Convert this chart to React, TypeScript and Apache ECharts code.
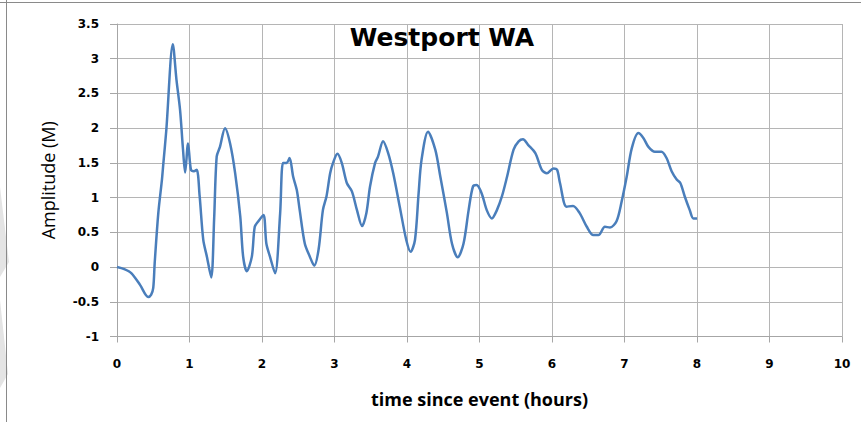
import React, { useEffect, useRef } from "react";
import * as echarts from "echarts";

const titleText = "Westport WA";
const xAxisName = "time since event (hours)";
const yAxisName = "Amplitude (M)";

const times = [
  0, 0.1, 0.2, 0.32, 0.43, 0.47, 0.5, 0.52, 0.57, 0.62, 0.64, 0.68, 0.77, 0.82, 0.87, 0.91, 0.94, 0.98,
  1.02, 1.06, 1.1, 1.14, 1.19, 1.24, 1.3, 1.34, 1.375, 1.42, 1.49, 1.56, 1.63, 1.7, 1.74, 1.79, 1.86,
  1.9, 1.95, 2.02, 2.06, 2.11, 2.18, 2.25, 2.29, 2.34, 2.38, 2.43, 2.48, 2.52, 2.59, 2.66, 2.72, 2.78,
  2.84, 2.89, 2.94, 2.98, 3.04, 3.1, 3.17, 3.24, 3.31, 3.38, 3.44, 3.49, 3.56, 3.6, 3.67, 3.74, 3.81,
  3.9, 3.99, 4.05, 4.11, 4.16, 4.2, 4.29, 4.39, 4.46, 4.55, 4.62, 4.7, 4.78, 4.85, 4.91, 4.96, 5.03,
  5.1, 5.17, 5.24, 5.31, 5.38, 5.47, 5.54, 5.6, 5.67, 5.77, 5.86, 5.93, 6.02, 6.07, 6.11, 6.2, 6.29,
  6.38, 6.48, 6.57, 6.64, 6.73, 6.8, 6.89, 6.96, 7.03, 7.1, 7.19, 7.26, 7.33, 7.42, 7.51, 7.58, 7.65,
  7.72, 7.77, 7.83, 7.9, 7.95, 8.0,
];

const amplitude = [
  0, -0.03, -0.09, -0.26, -0.43, -0.4, -0.3, 0.06, 0.78, 1.26, 1.5, 1.97, 3.21, 2.7, 2.26, 1.7, 1.36, 1.78,
  1.4, 1.38, 1.4, 1.02, 0.39, 0.15, -0.15, 0.7, 1.59, 1.73, 2.0, 1.78, 1.35, 0.73, 0.15, -0.06, 0.15,
  0.58, 0.66, 0.75, 0.34, 0.15, -0.09, 0.77, 1.5, 1.5, 1.57, 1.3, 1.11, 0.82, 0.34, 0.15, 0.02, 0.25,
  0.82, 1.02, 1.35, 1.5, 1.63, 1.5, 1.21, 1.09, 0.82, 0.59, 0.78, 1.16, 1.5, 1.59, 1.81, 1.64, 1.35,
  0.87, 0.39, 0.22, 0.39, 1.06, 1.54, 1.95, 1.69, 1.3, 0.78, 0.34, 0.14, 0.34, 0.82, 1.16, 1.18, 1.06,
  0.82, 0.7, 0.82, 1.02, 1.3, 1.69, 1.81, 1.84, 1.76, 1.64, 1.4, 1.35, 1.42, 1.4, 1.21, 0.87, 0.88,
  0.78, 0.58, 0.46, 0.46, 0.58, 0.57, 0.66, 0.94, 1.3, 1.71, 1.93, 1.86, 1.73, 1.66, 1.66, 1.57, 1.38,
  1.26, 1.21, 1.02, 0.82, 0.7, 0.7,
];

export default function App() {
  const ref = useRef<HTMLDivElement>(null);
  useEffect(() => {
    if (!ref.current) return;
    const chart = echarts.init(ref.current, null, { renderer: "svg" });
    const data = times.map((t, i) => [t, amplitude[i]]);
    chart.setOption({
      animation: false,
      backgroundColor: "#ffffff",
      title: {
        text: titleText,
        left: 437,
        top: 20,
        textAlign: "center",
        textStyle: { fontFamily: "DejaVu Sans", fontWeight: "bold", fontSize: 25, color: "#000" },
      },
      graphic: [
        { type: "polygon", shape: { points: [[0, 187], [9, 262], [0, 277]] }, style: { fill: "#e4e4e4" } },
        { type: "polygon", shape: { points: [[0, 300], [8, 374], [0, 388]] }, style: { fill: "#e4e4e4" } },
        { type: "line", shape: { x1: 0, y1: 2.5, x2: 861, y2: 2.5 }, style: { stroke: "#8a8a8a", lineWidth: 1 } },
        { type: "line", shape: { x1: 6.5, y1: 0, x2: 6.5, y2: 422 }, style: { stroke: "#8a8a8a", lineWidth: 1 } },
      ],
      grid: { left: 117, right: 19, top: 24, bottom: 85.5, containLabel: false },
      xAxis: {
        type: "value",
        min: 0,
        max: 10,
        interval: 1,
        name: xAxisName,
        nameLocation: "middle",
        nameGap: 53,
        nameTextStyle: { fontFamily: "Open Sans", fontWeight: "bold", fontSize: 18, color: "#000" },
        axisLine: { onZero: false, lineStyle: { color: "#a6a6a6", width: 1 } },
        axisTick: { show: true, length: 6, lineStyle: { color: "#a6a6a6" } },
        axisLabel: { fontFamily: "DejaVu Sans", fontWeight: "bold", fontSize: 12, color: "#000", margin: 21 },
        splitLine: { show: true, lineStyle: { color: "#b5b5b5", width: 1 } },
      },
      yAxis: {
        type: "value",
        min: -1,
        max: 3.5,
        interval: 0.5,
        name: yAxisName,
        nameLocation: "middle",
        nameGap: 60,
        nameRotate: 90,
        nameTextStyle: { fontFamily: "Open Sans", fontSize: 18, color: "#000" },
        axisLine: { show: true, lineStyle: { color: "#a6a6a6", width: 1 } },
        axisTick: { show: true, length: 7, lineStyle: { color: "#a6a6a6" } },
        axisLabel: { fontFamily: "DejaVu Sans", fontWeight: "bold", fontSize: 12, color: "#000", margin: 18 },
        splitLine: { show: true, lineStyle: { color: "#b5b5b5", width: 1 } },
      },
      series: [
        {
          type: "line",
          data,
          showSymbol: false,
          smooth: 0.3,
          lineStyle: { color: "#4a7ebb", width: 2.5 },
        },
      ],
    });
    return () => chart.dispose();
  }, []);
  return <div ref={ref} style={{ position: "fixed", left: 0, top: 0, width: 861, height: 422 }} />;
}
